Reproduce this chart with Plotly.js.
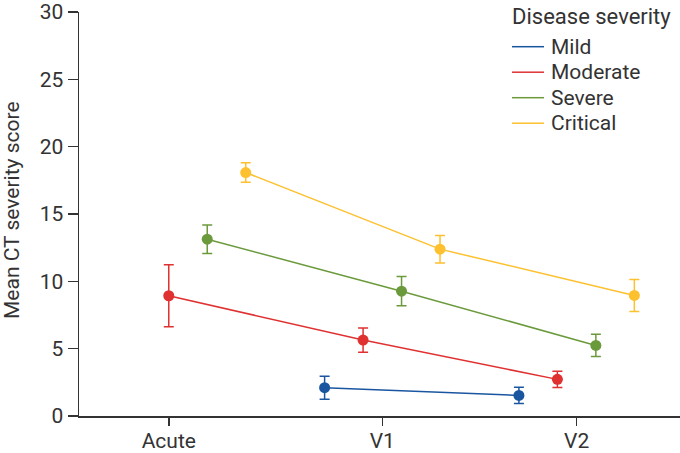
<!DOCTYPE html>
<html>
<head>
<meta charset="utf-8">
<script src="https://cdn.plot.ly/plotly-3.0.1.min.js"></script>
<style>html,body{margin:0;padding:0;background:#fff;}#chart{width:680px;height:453px;}</style>
</head>
<body>
<div id="chart"></div>
<script>
// ---- data ----
const categories = ['Acute', 'V1', 'V2'];
const seriesNames = ['Mild', 'Moderate', 'Severe', 'Critical'];
const mildMean = [null, 2.10, 1.53];
const mildErr = [null, 0.86, 0.60];
const moderateMean = [8.93, 5.64, 2.72];
const moderateErr = [2.30, 0.90, 0.60];
const severeMean = [13.13, 9.27, 5.24];
const severeErr = [1.06, 1.08, 0.83];
const criticalMean = [18.08, 12.39, 8.95];
const criticalErr = [0.72, 1.02, 1.19];
const yTicks = [0, 5, 10, 15, 20, 25, 30];
const legendTitle = 'Disease severity';
const yTitle = 'Mean CT severity score';

// ---- styles / layout constants ----
const colors = ['#1a56a0', '#e03131', '#6b9a3c', '#fdc02f'];
const dodge = 0.198;
const fontFam = 'Roboto, "Open Sans", sans-serif';
const textColor = '#333333';
const W = 680, H = 453;
const M = {l: 79, r: 0, t: 12, b: 37};
const plotW = W - M.l - M.r, plotH = H - M.t - M.b;
const px2x = p => (p - M.l) / plotW;       // pixel -> paper x
const px2y = p => (H - M.b - p) / plotH;   // pixel -> paper y

const means = [mildMean, moderateMean, severeMean, criticalMean];
const errs = [mildErr, moderateErr, severeErr, criticalErr];

const traces = seriesNames.map((name, k) => {
  const off = (k - 1.5) * dodge;
  return {
    type: 'scatter',
    mode: 'lines+markers',
    name: name,
    x: categories.map((c, i) => i + off),
    y: means[k],
    error_y: {type: 'data', array: errs[k], visible: true, color: colors[k], thickness: 1.5, width: 5},
    line: {color: colors[k], width: 1.5},
    marker: {color: colors[k], size: 11},
    connectgaps: false,
    showlegend: false,
    hoverinfo: 'skip'
  };
});

// Acute tick sits under the first plotted group (Moderate)
const tickPositions = [-0.5 * dodge, 1, 2];

// manual legend (line keys only, as in the reference)
const legX0 = 512, legLineLen = 32, legTextGap = 7, legFirstY = 46.7, legStep = 25.5, legTitleY = 16.7;
const annotations = [{
  text: yTitle, xref: 'paper', yref: 'paper',
  x: px2x(12), y: px2y(210), xanchor: 'center', yanchor: 'middle',
  textangle: -90, showarrow: false,
  font: {family: fontFam, size: 21, color: textColor}
}, {
  text: legendTitle, xref: 'paper', yref: 'paper',
  x: px2x(legX0 - 2), y: px2y(legTitleY), xanchor: 'left', yanchor: 'middle',
  showarrow: false, font: {family: fontFam, size: 22, color: textColor}
}];
const shapes = [];
seriesNames.forEach((name, k) => {
  const cy = legFirstY + k * legStep;
  shapes.push({
    type: 'line', xref: 'paper', yref: 'paper',
    x0: px2x(legX0), x1: px2x(legX0 + legLineLen), y0: px2y(cy), y1: px2y(cy),
    line: {color: colors[k], width: 1.5}
  });
  annotations.push({
    text: name, xref: 'paper', yref: 'paper',
    x: px2x(legX0 + legLineLen + legTextGap - 2), y: px2y(cy), xanchor: 'left', yanchor: 'middle',
    showarrow: false, font: {family: fontFam, size: 21, color: textColor}
  });
});

const layout = {
  width: W, height: H,
  margin: {l: M.l, r: M.r, t: M.t, b: M.b, pad: 0},
  paper_bgcolor: '#ffffff', plot_bgcolor: '#ffffff',
  font: {family: fontFam, size: 21, color: textColor},
  showlegend: false,
  xaxis: {
    range: [-0.561, 2.532],
    tickmode: 'array', tickvals: tickPositions, ticktext: categories,
    showline: true, linecolor: textColor, linewidth: 1.5,
    ticks: 'outside', ticklen: 8, tickwidth: 1.5, tickcolor: textColor,
    ticklabelstandoff: -3,
    showgrid: false, zeroline: false,
    tickfont: {family: fontFam, size: 21, color: textColor}
  },
  yaxis: {
    range: [0, 30],
    tickmode: 'array', tickvals: yTicks, ticktext: yTicks.map(String),
    showline: true, linecolor: textColor, linewidth: 1.5,
    ticks: 'outside', ticklen: 10, tickwidth: 1.5, tickcolor: textColor,
    showgrid: false, zeroline: false,
    tickfont: {family: fontFam, size: 21, color: textColor}
  },
  shapes: shapes,
  annotations: annotations
};

Plotly.newPlot('chart', traces, layout, {displayModeBar: false, staticPlot: true});
</script>
</body>
</html>
